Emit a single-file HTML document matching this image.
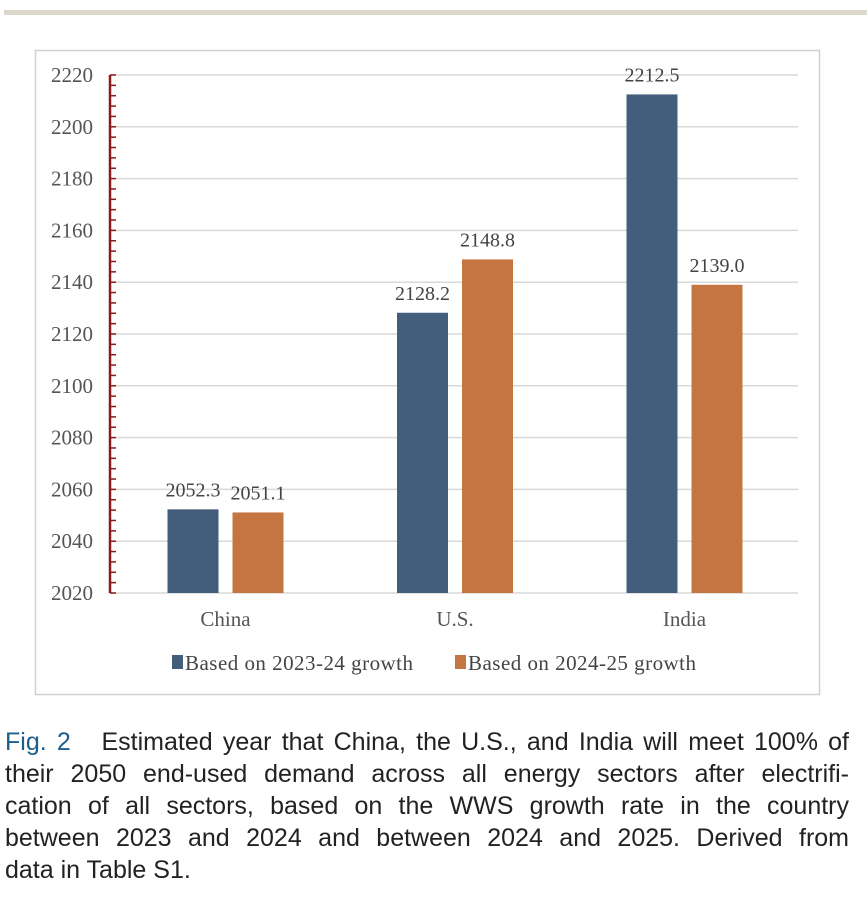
<!DOCTYPE html>
<html><head><meta charset="utf-8"><style>
body{margin:0;width:867px;height:906px;background:#fff;position:relative;overflow:hidden}
.top{position:absolute;left:4px;top:10px;width:863px;height:5px;background:#dcd9cc}
.cap{position:absolute;left:5px;top:726px;width:844px;font-family:"Liberation Sans",sans-serif;font-size:25px;line-height:32px;color:#222}
.cap div{text-align:justify;text-align-last:justify;white-space:nowrap}
.cap div.last{text-align-last:left}
.cap b{font-weight:normal;color:#1b5e8a}
</style></head><body>
<div class="top"></div>
<svg width="867" height="720" style="position:absolute;left:0;top:0">
<rect x="35.5" y="50.5" width="784" height="644" fill="#fff" stroke="#d0d0d0" stroke-width="1.5"/>
<g id="grid"></g><g id="bars"></g><g id="axis"></g>
<g font-family="Liberation Serif,serif" font-size="21" fill="#444">
<rect x="172" y="655" width="11" height="14" fill="#435e7b"/>
<text x="185" y="670" textLength="228">Based on 2023-24 growth</text>
<rect x="455" y="655" width="11" height="14" fill="#c47542"/>
<text x="468" y="670" textLength="228">Based on 2024-25 growth</text>
</g>
</svg>
<div class="cap">
<div><b>Fig. 2</b>&nbsp;&nbsp; Estimated year that China, the U.S., and India will meet 100% of</div>
<div>their 2050 end-used demand across all energy sectors after electrifi-</div>
<div>cation of all sectors, based on the WWS growth rate in the country</div>
<div>between 2023 and 2024 and between 2024 and 2025. Derived from</div>
<div class="last">data in Table S1.</div>
</div>
<script>
const categories=["China","U.S.","India"];
const series2023=[2052.3,2128.2,2212.5];
const series2024=[2051.1,2148.8,2139.0];
const yTicks=[2020,2040,2060,2080,2100,2120,2140,2160,2180,2200,2220];
const NS="http://www.w3.org/2000/svg";
const y=v=>593-(v-2020)*(518/200);
const cx=i=>225.5+i*229.5;
function mk(t,a,p){const e=document.createElementNS(NS,t);for(const k in a)e.setAttribute(k,a[k]);p.appendChild(e);return e;}
const g=document.getElementById('grid'),b=document.getElementById('bars'),ax=document.getElementById('axis');
yTicks.forEach(t=>{
 const l=mk('line',{x1:110,x2:798,y1:y(t),y2:y(t),stroke:'#d9d9d9','stroke-width':1.5},g);
 
 
 const tx=mk('text',{x:93,y:y(t)+7,'text-anchor':'end','font-family':'Liberation Serif,serif','font-size':21,fill:'#555'},g);
 tx.textContent=t;
 
 
});
const al=mk('line',{x1:110,x2:110,y1:y(2220),y2:y(2020),stroke:'#8b1a1a','stroke-width':2.5},ax);


for(let v=2020;v<=2220;v+=4){const tk=mk('line',{x1:110,x2:116,y1:y(v),y2:y(v),stroke:'#8b1a1a','stroke-width':1.5},ax);
 
 }
categories.forEach((c,i)=>{
 [[series2023[i],'#435e7b',-58,'2023'],[series2024[i],'#c47542',7,'2024']].forEach(([v,col,off,s])=>{
  const r=mk('rect',{x:cx(i)+off,y:y(v),width:51,height:y(2020)-y(v),fill:col},b);
  
  
  const t=mk('text',{x:cx(i)+off+25.5,y:y(v)-13,'text-anchor':'middle','font-family':'Liberation Serif,serif','font-size':20,fill:'#444'},b);
  t.textContent=v.toFixed(1);
  
  
 });
 const xl=mk('text',{x:cx(i),y:626,'text-anchor':'middle','font-family':'Liberation Serif,serif','font-size':21,fill:'#555'},b);
 xl.textContent=c;
 
 
});
</script>
</body></html>
